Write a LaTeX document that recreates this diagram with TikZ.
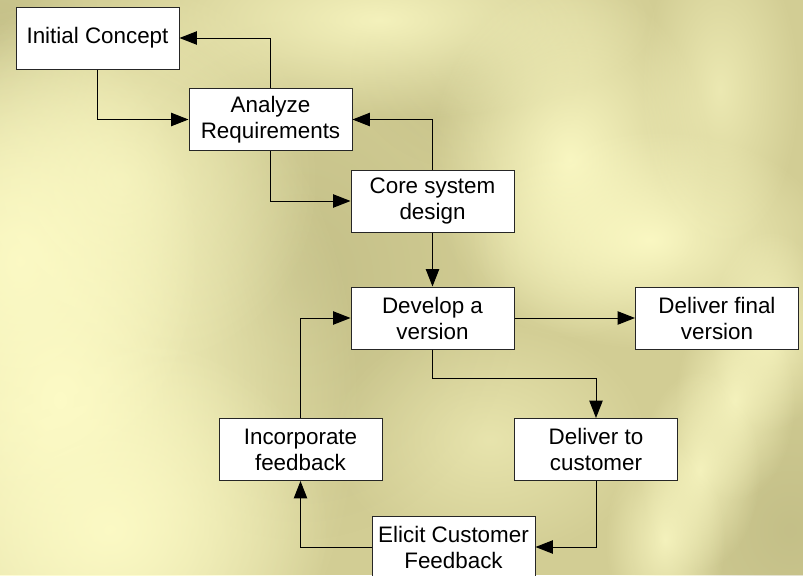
\documentclass[tikz,border=0pt]{standalone}
\usepackage{fontspec}
\setmainfont{Liberation Sans}
\usetikzlibrary{positioning, arrows.meta, fadings}
\definecolor{khaki}{RGB}{210,205,148}
\definecolor{cream}{RGB}{253,251,198}
\definecolor{olive}{RGB}{182,178,124}
\tikzfading[name=glow, inner color=transparent!0, outer color=transparent!100]

\begin{document}
\begin{tikzpicture}[x=0.75pt, y=-0.75pt,
    stage/.style={draw=black!85, fill=white, line width=0.75pt,
      minimum width=122.25pt, minimum height=46.5pt, inner sep=0pt,
      align=center, font=\fontsize{16.8}{19.5}\selectfont},
    flow/.style={draw=black, line width=0.75pt,
      -{Triangle[length=13pt,width=10pt]}}]
  % textured backdrop
  \clip (0,0) rectangle (803,575);
  \fill[khaki] (0,0) rectangle (803,575);
  \foreach \cx/\cy/\rx/\ry/\op in {300/280/220/260/0.5, 790/530/160/180/0.5,
      0/40/100/150/0.5, 470/70/120/100/0.4} {
    \fill[olive, opacity=\op, path fading=glow]
      (\cx,\cy) ellipse [x radius=\rx, y radius=\ry];
  }
  \foreach \cx/\cy/\rx/\ry/\op in {60/400/300/400/1, 20/260/180/240/0.9,
      110/530/220/200/0.9, 120/180/200/200/0.6,
      380/20/280/100/0.8, 570/160/140/180/0.9, 650/240/180/110/0.9,
      720/90/80/160/0.6, 770/330/60/100/0.8, 735/400/60/100/0.8,
      700/470/60/100/0.8, 665/540/60/100/0.8, 490/440/160/120/0.5} {
    \fill[cream, opacity=\op, path fading=glow]
      (\cx,\cy) ellipse [x radius=\rx, y radius=\ry];
  }

  \node[stage] (init) at (97.5,38) {Initial Concept};
  \node[stage] (analyze) at (270.5,119.5) {Analyze\\Requirements};
  \node[stage] (core) at (432.5,201) {Core system\\design};
  \node[stage] (develop) at (432.5,318) {Develop a\\version};
  \node[stage] (final) at (717,318) {Deliver final\\version};
  \node[stage] (incorp) at (300.5,449.5) {Incorporate\\feedback};
  \node[stage] (deliver) at (596,449.5) {Deliver to\\customer};
  \node[stage] (elicit) at (453.5,547) {Elicit Customer\\Feedback};

  \draw[flow] (init.south) |- (analyze.west);
  \draw[flow] (analyze.north) |- (init.east);
  \draw[flow] (analyze.south) |- (core.west);
  \draw[flow] (core.north) |- (analyze.east);
  \draw[flow] (core) -- (develop);
  \draw[flow] (develop) -- (final);
  \draw[flow] (develop.south) -- ++(0,29) -| (deliver.north);
  \draw[flow] (deliver.south) |- (elicit.east);
  \draw[flow] (elicit.west) -| (incorp.south);
  \draw[flow] (incorp.north) |- (develop.west);
\end{tikzpicture}
\end{document}
